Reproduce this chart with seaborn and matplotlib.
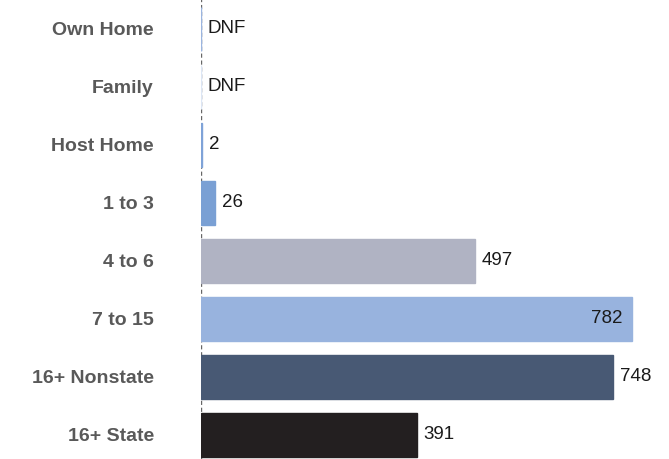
import matplotlib
matplotlib.use("Agg")
import matplotlib.pyplot as plt
import seaborn as sns
import pandas as pd

categories = ["Own Home", "Family", "Host Home", "1 to 3", "4 to 6",
              "7 to 15", "16+ Nonstate", "16+ State"]
values = [0, 0, 2, 26, 497, 782, 748, 391]
labels = ["DNF", "DNF", "2", "26", "497", "782", "748", "391"]
colors = ["#9BB5E0", "#DCE6F5", "#7FA3D8", "#7AA0D4", "#B0B3C3",
          "#98B3DE", "#485974", "#231F20"]

sns.set_theme(style="white")
plt.rcParams["font.family"] = ["Liberation Sans", "DejaVu Sans"]

df = pd.DataFrame({"category": categories, "value": values})

fig = plt.figure(figsize=(6.69, 4.59), dpi=100)
ax = fig.add_axes([201 / 669, -6 / 459, 468 / 669, 467 / 459])

sns.barplot(data=df, x="value", y="category", hue="category",
            palette=colors, legend=False, width=0.76, saturation=1,
            ax=ax, zorder=2)

# thin edge in the bar's own colour so the zero / tiny bars still show
for bar, c in zip(ax.patches, colors):
    bar.set_edgecolor(c)
    bar.set_linewidth(1.0)

ax.axvline(0, color="#666666", linestyle=(0, (3, 2)), linewidth=1, zorder=1)
ax.set_xlim(0, 849)
ax.set_ylim(len(categories) - 0.5 + 0.02, -0.5 - 0.03)

for bar, lab, v in zip(ax.patches, labels, values):
    y = bar.get_y() + bar.get_height() / 2
    x = bar.get_width()
    if v > 770:
        ax.annotate(lab, (x, y), xytext=(-7, 0), textcoords="offset points",
                    ha="right", va="center", fontsize=13.5, color="#1a1a1a")
    else:
        ax.annotate(lab, (x, y), xytext=(5, 0), textcoords="offset points",
                    ha="left", va="center", fontsize=13.5, color="#1a1a1a")

ax.set_xlabel("")
ax.set_ylabel("")
ax.set_xticks([])
ax.tick_params(axis="y", length=0, pad=34)
for t in ax.get_yticklabels():
    t.set_fontweight("bold")
    t.set_color("#595959")
    t.set_fontsize(14)
for s in ax.spines.values():
    s.set_visible(False)

fig.savefig("out.png", dpi=100)
